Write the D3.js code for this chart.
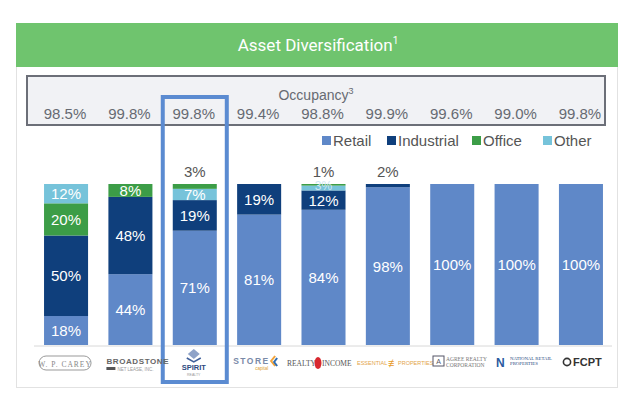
<!DOCTYPE html>
<html>
<head>
<meta charset="utf-8">
<script src="https://cdn.jsdelivr.net/npm/d3@7"></script>
<style>
  html, body { margin: 0; padding: 0; background: #ffffff; }
  svg { display: block; font-family: "Liberation Sans", Arial, sans-serif; }
</style>
</head>
<body>
<svg id="chart" width="640" height="420"></svg>
<script>
// ---------------- data ----------------
const companies = ["W. P. CAREY", "BROADSTONE", "SPIRIT", "STORE", "REALTY INCOME",
                   "ESSENTIAL PROPERTIES", "AGREE REALTY", "NATIONAL RETAIL", "FCPT"];
const occupancy = ["98.5%", "99.8%", "99.8%", "99.4%", "98.8%", "99.9%", "99.6%", "99.0%", "99.8%"];
const seriesNames = ["Retail", "Industrial", "Office", "Other"];
const retail     = [18, 44, 71, 81, 84, 98, 100, 100, 100];
const industrial = [50, 48, 19, 19, 12,  2,   0,   0,   0];
const office     = [20,  8,  3,  0,  1,  0,   0,   0,   0];
const other      = [12,  0,  7,  0,  3,  0,   0,   0,   0];
// stacking order (bottom -> top) for each company
const stackOrder = [
  ["Retail", "Industrial", "Office", "Other"],
  ["Retail", "Industrial", "Office", "Other"],
  ["Retail", "Industrial", "Other", "Office"],
  ["Retail", "Industrial", "Other", "Office"],
  ["Retail", "Industrial", "Other", "Office"],
  ["Retail", "Industrial", "Other", "Office"],
  ["Retail", "Industrial", "Other", "Office"],
  ["Retail", "Industrial", "Other", "Office"],
  ["Retail", "Industrial", "Other", "Office"]
];
const highlighted = "SPIRIT";
const yTicks = [0, 100];

const values = { Retail: retail, Industrial: industrial, Office: office, Other: other };
const colors = { Retail: "#5f88c8", Industrial: "#0f3f7c", Office: "#3c9d47", Other: "#76c3da" };

// ---------------- layout ----------------
const svg = d3.select("#chart");

// panel
svg.append("rect").attr("x", 16.5).attr("y", 23.5).attr("width", 601).attr("height", 364)
  .attr("fill", "#fff").attr("stroke", "#e2e2e2").attr("stroke-width", 1);
// header
svg.append("rect").attr("x", 16).attr("y", 23).attr("width", 602).attr("height", 44)
  .attr("fill", "#6fc46e");
const title = svg.append("text").attr("x", 318).attr("y", 51).attr("text-anchor", "middle")
  .attr("fill", "#fff").attr("font-size", 17).attr("font-family", "Roboto, 'Liberation Sans', sans-serif");
title.append("tspan").text("Asset Diversification");
title.append("tspan").text("1").attr("font-size", 10).attr("dy", -7);

// scales
const x = d3.scaleBand().domain(companies).range([23.7, 623.3]).padding(0.316);
const y = d3.scaleLinear().domain([yTicks[0], yTicks[1]]).range([345, 184]);

// occupancy box
svg.append("rect").attr("x", 27).attr("y", 76).attr("width", 578).attr("height", 49)
  .attr("fill", "#f1f2f5").attr("stroke", "#6c6f78").attr("stroke-width", 2);
const occ = svg.append("text").attr("x", 316).attr("y", 100).attr("text-anchor", "middle")
  .attr("fill", "#666a72").attr("font-size", 14);
occ.append("tspan").text("Occupancy");
occ.append("tspan").text("3").attr("font-size", 9).attr("dy", -6);

svg.append("g").selectAll("text").data(companies).join("text")
  .attr("x", (d, i) => x(d) + x.bandwidth() / 2 - 1)
  .attr("y", 119).attr("text-anchor", "middle")
  .attr("fill", "#666a72").attr("font-size", 15)
  .text((d, i) => occupancy[i]);

// baseline
svg.append("line").attr("x1", 34).attr("x2", 612).attr("y1", y(0) + 1).attr("y2", y(0) + 1)
  .attr("stroke", "#d8d8d8").attr("stroke-width", 1);

// build segments
const segments = [];
companies.forEach((c, i) => {
  let acc = 0;
  const order = stackOrder[i];
  const nonZero = order.filter(s => values[s][i] > 0);
  nonZero.forEach((s, k) => {
    const v = values[s][i];
    segments.push({ company: c, series: s, v, y0: acc, y1: acc + v, top: k === nonZero.length - 1 });
    acc += v;
  });
});

const bars = svg.append("g");
bars.selectAll("rect").data(segments).join("rect")
  .attr("x", d => x(d.company))
  .attr("width", x.bandwidth())
  .attr("y", d => y(d.y1))
  .attr("height", d => y(d.y0) - y(d.y1))
  .attr("fill", d => colors[d.series]);

// labels
const isOutside = d => d.top && d.v < 4 && d.series !== "Retail";
const inside = segments.filter(d => !isOutside(d));
const outside = segments.filter(isOutside);
svg.append("g").selectAll("text").data(inside).join("text")
  .attr("x", d => x(d.company) + x.bandwidth() / 2)
  .attr("y", d => (y(d.y0) + y(d.y1)) / 2)
  .attr("dy", d => d.v < 4 ? "0.2em" : "0.36em")
  .attr("text-anchor", "middle").attr("fill", d => d.v < 4 ? "#cfe6f2" : "#fff")
  .attr("font-size", d => d.v < 4 ? 12 : 15)
  .text(d => d.v + "%");
svg.append("g").selectAll("text").data(outside).join("text")
  .attr("x", d => x(d.company) + x.bandwidth() / 2)
  .attr("y", y(100) - 7)
  .attr("text-anchor", "middle").attr("fill", "#555").attr("font-size", 15)
  .text(d => d.v + "%");

// legend
const legendX = [322, 387, 472, 543];
const lg = svg.append("g").selectAll("g").data(seriesNames).join("g")
  .attr("transform", (d, i) => `translate(${legendX[i]},141)`);
lg.append("rect").attr("x", 0).attr("y", -5).attr("width", 9).attr("height", 9).attr("fill", d => colors[d]);
lg.append("text").attr("x", 11).attr("y", 0).attr("dy", "0.35em").attr("fill", "#555")
  .attr("font-size", 15).text(d => d);

// highlight box
const hx = x(highlighted);
svg.append("rect").attr("x", hx - 10).attr("y", 97).attr("width", x.bandwidth() + 20).attr("height", 285)
  .attr("fill", "none").attr("stroke", "#5b8bd1").attr("stroke-width", 4);

// ---------------- logos (text approximations) ----------------
const lgY = 366;
const logos = svg.append("g");
const cx = c => x(c) + x.bandwidth() / 2;
// W. P. Carey
logos.append("rect").attr("x", cx("W. P. CAREY") - 27).attr("y", lgY - 10).attr("width", 52).attr("height", 14)
  .attr("rx", 7).attr("fill", "none").attr("stroke", "#999").attr("stroke-width", 1);
logos.append("text").attr("x", cx("W. P. CAREY") - 1).attr("y", lgY + 1).attr("text-anchor", "middle")
  .attr("font-size", 7.5).attr("fill", "#888").attr("font-family", "'Liberation Serif', serif").attr("letter-spacing", 1).text("W. P. CAREY");
// Broadstone
logos.append("text").attr("x", cx("BROADSTONE") - 24).attr("y", lgY - 2).attr("font-size", 8).attr("font-weight", "bold")
  .attr("fill", "#666").attr("letter-spacing", 0.6).text("BROADSTONE");
logos.append("rect").attr("x", cx("BROADSTONE") - 24).attr("y", lgY + 1).attr("width", 9).attr("height", 3).attr("fill", "#555");
logos.append("text").attr("x", cx("BROADSTONE") - 13).attr("y", lgY + 5).attr("font-size", 4.5).attr("fill", "#999").text("NET LEASE, INC.");
// Spirit
const sx = cx("SPIRIT");
logos.append("path").attr("d", `M${sx - 1},${lgY - 17} l6,5 l-6,5 l-6,-5 z`).attr("fill", "#8fa3c8");
logos.append("path").attr("d", `M${sx - 8},${lgY - 8} l7,4 l7,-4`).attr("fill", "none").attr("stroke", "#3f5f9a").attr("stroke-width", 1.5);
logos.append("text").attr("x", sx - 1).attr("y", lgY + 4).attr("text-anchor", "middle").attr("font-size", 7.5).attr("font-weight", "bold")
  .attr("fill", "#2c4a80").text("SPIRIT");
logos.append("text").attr("x", sx - 1).attr("y", lgY + 10).attr("text-anchor", "middle").attr("font-size", 3.5)
  .attr("fill", "#999").text("REALTY");
// Store
logos.append("text").attr("x", cx("STORE") - 26).attr("y", lgY - 2).attr("font-size", 8.5).attr("font-weight", "bold")
  .attr("fill", "#7a8aa8").attr("letter-spacing", 1.5).text("STORE");
logos.append("text").attr("x", cx("STORE") - 4).attr("y", lgY + 4).attr("font-size", 4.5).attr("fill", "#e0a030").text("capital");
logos.append("path").attr("d", `M${cx("STORE") + 16},${lgY - 10} l-4,5 l4,5`).attr("fill", "none").attr("stroke", "#f2a33a").attr("stroke-width", 2);
logos.append("path").attr("d", `M${cx("STORE") + 18},${lgY - 8} l-3,4 l3,4`).attr("fill", "none").attr("stroke", "#2f6db2").attr("stroke-width", 2);
// Realty Income
logos.append("text").attr("x", 287).attr("y", lgY).attr("font-size", 7.5).attr("fill", "#555")
  .attr("font-family", "'Liberation Serif', serif").text("REALTY");
logos.append("ellipse").attr("cx", 318).attr("cy", lgY - 3).attr("rx", 3.5).attr("ry", 6).attr("fill", "#d8282f");
logos.append("text").attr("x", 322).attr("y", lgY).attr("font-size", 7.5).attr("fill", "#555")
  .attr("font-family", "'Liberation Serif', serif").text("INCOME");
// Essential Properties
logos.append("text").attr("x", 357).attr("y", lgY - 1).attr("font-size", 5.5).attr("fill", "#e3a54a").text("ESSENTIAL");
logos.append("text").attr("x", 388).attr("y", lgY + 1).attr("font-size", 11).attr("fill", "#e79a2a").text("≢");
logos.append("text").attr("x", 398).attr("y", lgY - 1).attr("font-size", 5.5).attr("fill", "#e3a54a").text("PROPERTIES");
// Agree Realty
logos.append("rect").attr("x", 433).attr("y", lgY - 10).attr("width", 11).attr("height", 10).attr("fill", "none")
  .attr("stroke", "#556").attr("stroke-width", 1);
logos.append("text").attr("x", 438.5).attr("y", lgY - 2).attr("text-anchor", "middle").attr("font-size", 7).attr("fill", "#556").text("A");
logos.append("text").attr("x", 446).attr("y", lgY - 5).attr("font-size", 5.5).attr("fill", "#777")
  .attr("font-family", "'Liberation Serif', serif").text("AGREE REALTY");
logos.append("text").attr("x", 446).attr("y", lgY + 1).attr("font-size", 5.5).attr("fill", "#777")
  .attr("font-family", "'Liberation Serif', serif").text("CORPORATION");
// National Retail Properties
logos.append("text").attr("x", 496).attr("y", lgY + 1).attr("font-size", 12).attr("font-weight", "bold").attr("fill", "#2a5aa0").text("N");
logos.append("text").attr("x", 510).attr("y", lgY - 6).attr("font-size", 4.8).attr("fill", "#2a4a80")
  .attr("font-family", "'Liberation Serif', serif").text("NATIONAL RETAIL");
logos.append("text").attr("x", 510).attr("y", lgY - 1).attr("font-size", 4.8).attr("fill", "#2a4a80")
  .attr("font-family", "'Liberation Serif', serif").text("PROPERTIES");
// FCPT
logos.append("circle").attr("cx", 567).attr("cy", lgY - 4).attr("r", 3.6).attr("fill", "none").attr("stroke", "#333").attr("stroke-width", 1.6);
logos.append("text").attr("x", 573).attr("y", lgY + 0).attr("font-size", 11).attr("font-weight", "bold").attr("fill", "#333").text("FCPT");
</script>
</body>
</html>
